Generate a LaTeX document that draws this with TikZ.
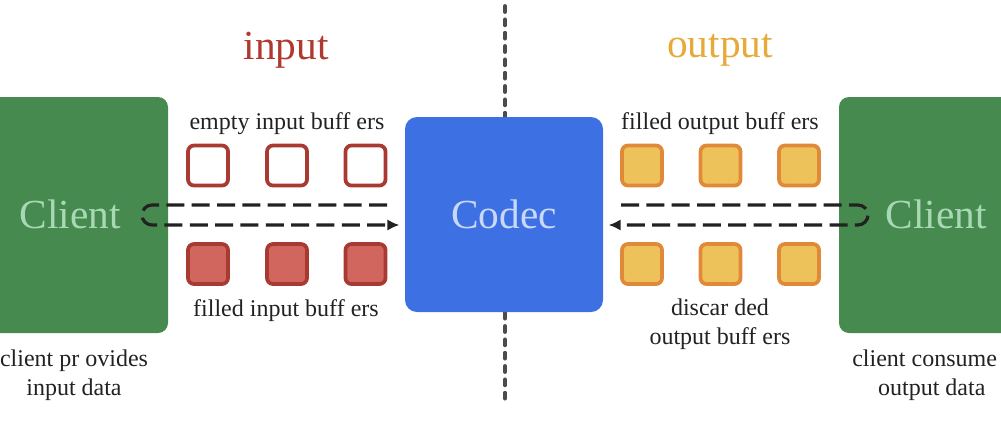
\documentclass[tikz,border=0pt]{standalone}
\usepackage{fontspec}
\setmainfont{Liberation Serif}
\usetikzlibrary{arrows.meta}
\definecolor{cgreen}{HTML}{468A4F}
\definecolor{cgtext}{HTML}{A9D9B4}
\definecolor{cblue}{HTML}{3C70E3}
\definecolor{cbtext}{HTML}{C9D8F7}
\definecolor{redtitle}{HTML}{B0392F}
\definecolor{orgtitle}{HTML}{E8A93B}
\definecolor{redline}{HTML}{A93A31}
\definecolor{redfill}{HTML}{D0665D}
\definecolor{orgline}{HTML}{E08A39}
\definecolor{orgfill}{HTML}{EEC25A}
\definecolor{lbl}{HTML}{222222}
\tikzset{
  clientbox/.style={fill=cgreen, rounded corners=7.5pt, minimum width=150pt, minimum height=177pt, inner sep=0pt},
  clienttext/.style={text=cgtext, font=\fontsize{31}{34}\selectfont},
  codecbox/.style={fill=cblue, rounded corners=9pt, minimum width=148.5pt, minimum height=146.25pt, inner sep=0pt,
    text=cbtext, font=\fontsize{31}{34}\selectfont},
  title/.style={font=\fontsize{31}{34}\selectfont},
  lab/.style={font=\fontsize{18}{21}\selectfont, text=lbl, align=center, inner sep=0pt},
  buf/.style={minimum size=30pt, inner sep=0pt, rounded corners=4.5pt, line width=2.8pt},
  emptyin/.style={buf, draw=redline, fill=white},
  fullin/.style={buf, draw=redline, fill=redfill},
  fullout/.style={buf, draw=orgline, fill=orgfill},
  flow/.style={draw=lbl, line width=2.4pt, dash pattern=on 13.5pt off 5.5pt},
  divider/.style={draw=black!70, line width=2.8pt, line cap=round, dash pattern=on 4.5pt off 5.5pt},
}
\begin{document}
\begin{tikzpicture}[x=0.75pt,y=-0.75pt]
\useasboundingbox (0,0) rectangle (1001,426);
% divider
\coordinate (dtop) at (505,6);
\coordinate (dbot) at (505,404);
\draw[divider] (dtop) -- (dbot);
% boxes
\node[clientbox] (cl) at (68,215) {};
\node[clienttext] (cltext) at (70,214) {Client};
\node[clientbox] (cr) at (939,215) {};
\node[clienttext] (crtext) at (936,214) {Client};
\node[codecbox] (codec) at (504,214.5) {Codec};
% titles
\node[title, text=redtitle] (tin) at (286,50) {input};
\node[title, text=orgtitle] (tout) at (720,50) {output};
% input buffers
\node[emptyin] (e1) at (208,165.5) {};
\node[emptyin] (e2) at (287,165.5) {};
\node[emptyin] (e3) at (365.5,165.5) {};
\node[fullin] (f1) at (208,264) {};
\node[fullin] (f2) at (287,264) {};
\node[fullin] (f3) at (365.5,264) {};
% output buffers
\node[fullout] (o1) at (642,165.5) {};
\node[fullout] (o2) at (720.5,165.5) {};
\node[fullout] (o3) at (799,165.5) {};
\node[fullout] (d1) at (642,264) {};
\node[fullout] (d2) at (720.5,264) {};
\node[fullout] (d3) at (799,264) {};
% labels
\node[lab] (l1) at (287,124) {empty input buff ers};
\node[lab] (l2) at (286,311) {filled input buff ers};
\node[lab] (l3) at (720,124) {filled output buff ers};
\node[lab] (l4) at (720,324) {discar ded\\[1pt]output buff ers};
\node[lab] (l5) at (74,375) {client pr ovides\\[1pt]input data};
\node[lab, anchor=west] (l6) at (852,375) {client consume\\[1pt]\hspace*{0.6em}output data};
% input flow
\coordinate (inA) at (387,205);
\coordinate (inB) at (152,205);
\draw[flow, -{Latex[length=9pt,width=8.5pt]}] (inA) -- (inB)
  arc[start angle=-90, end angle=-270, radius=10] coordinate (inC)
  -- ([xshift=-4pt]codec.west |- inC);
% output flow
\coordinate (outA) at (621,205);
\coordinate (outB) at (858,205);
\draw[flow, -{Latex[length=9pt,width=8.5pt]}] (outA) -- (outB)
  arc[start angle=-90, end angle=90, radius=10] coordinate (outC)
  -- ([xshift=4pt]codec.east |- outC);
\end{tikzpicture}
\end{document}
